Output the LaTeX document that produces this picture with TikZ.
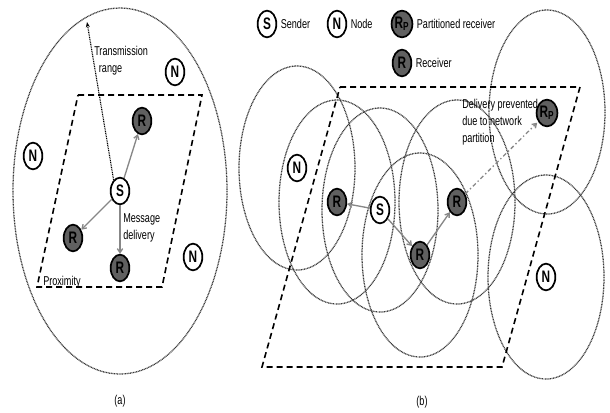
\documentclass[tikz,border=0pt]{standalone}
\usepackage{fontspec}
\setmainfont[FakeStretch=0.71]{Liberation Sans}
\usepackage{tikz}
\usetikzlibrary{%
  arrows.meta,%
  shapes.geometric,%
  positioning}

\definecolor{recvgray}{RGB}{96,96,96}
\definecolor{arrowgray}{RGB}{135,135,135}
\definecolor{rangegray}{RGB}{55,55,55}

\tikzset{
  sender/.style={ellipse,draw,line width=1.3pt,fill=white,minimum width=14pt,
    minimum height=20pt,inner sep=0pt,font=\fontsize{12.5}{13}\selectfont\bfseries},
  noeud/.style={sender},
  recv/.style={sender,fill=recvgray},
  portee/.style={draw=rangegray,line width=0.95pt,dash pattern=on 0.7pt off 0.5pt},
  zone/.style={draw,line width=1.2pt,dash pattern=on 4.5pt off 3pt},
  envoi/.style={draw=arrowgray,line width=1pt,-{Straight Barb[length=3pt,width=4pt]}},
  coupe/.style={envoi,dash pattern=on 3pt off 2pt on 1pt off 2pt},
  rayon/.style={draw,line width=0.85pt,dash pattern=on 0.7pt off 0.6pt,-{Stealth[length=4pt,width=3pt]}},
  lbl/.style={font=\fontsize{9.6}{12.75}\selectfont,align=left,inner sep=0pt},
  legende/.style={lbl,right=2.5pt of #1,anchor=west}
}

\begin{document}
\begin{tikzpicture}[x=0.75pt,y=-0.75pt]
\useasboundingbox (0,0) rectangle (610,412);
% (a) portee et zone
\draw[portee] (120,191) ellipse [x radius=107, y radius=183];
\draw[zone] (78,95) -- (202,95) -- (162,287) -- (37,287) -- cycle;
% (a) noeuds
\node (Sa) at (120,191) [sender] {S};
\node (Ra1) at (142,121) [recv] {R};
\node (Ra2) at (73,238) [recv] {R};
\node (Ra3) at (120,268) [recv] {R};
\node (Na1) at (175,72) [noeud] {N};
\node (Na2) at (33,156) [noeud] {N};
\node (Na3) at (193,257) [noeud] {N};
\coordinate (bord) at (87,22);
\draw[envoi] (Sa) -- (Ra1);
\draw[envoi] (Sa) -- (Ra2);
\draw[envoi] (Sa) -- (Ra3);
\draw[rayon] (Sa.120) -- (bord);
\node (trans) at (94,46) [lbl,anchor=north west] {Transmission\\\hspace*{3.5pt}range};
\node (msg) at (123,213) [lbl,anchor=north west] {Message\\delivery};
\node (prox) at (43,285.5) [lbl,anchor=base west] {Proximity};
\node (capa) at (120,401) [lbl] {(a)};

% (b) portees et zone
\foreach \cx/\cy in {297/168,337/202,380/210,420/255,457/202,547/112,546/277}
  \draw[portee] (\cx,\cy) ellipse [x radius=58, y radius=102];
\draw[zone] (340,87) -- (580,87) -- (502,367) -- (262,367) -- cycle;
% (b) noeuds
\node (Nb1) at (297,168) [noeud] {N};
\node (Rb1) at (337,202) [recv] {R};
\node (Sb) at (380,210) [sender] {S};
\node (Rb2) at (420,255) [recv] {R};
\node (Rb3) at (457,202) [recv] {R};
\node (Rp) at (547,113) [recv] {R\textsubscript{P}};
\node (Nb2) at (546,277) [noeud] {N};
\draw[envoi] (Sb) -- (Rb1);
\draw[envoi] (Sb) -- (Rb2);
\draw[envoi] (Rb2) -- (Rb3);
\draw[coupe,shorten >=1pt] (Rb3) -- (Rp);
\node (bloque) at (462,99) [lbl,anchor=north west] {Delivery prevented\\due to network\\partition};
\node (capb) at (422,402) [lbl] {(b)};

% legende
\node (LS) at (267,24) [sender] {S};
\node (LN) at (337,24) [noeud] {N};
\node (LRp) at (402,24) [recv] {R\textsubscript{P}};
\node (LR) at (402,63) [recv] {R};
\node (tS) [legende=LS] {Sender};
\node (tN) [legende=LN] {Node};
\node (tRp) [legende=LRp] {Partitioned receiver};
\node (tR) [legende=LR] {Receiver};
\end{tikzpicture}
\end{document}
